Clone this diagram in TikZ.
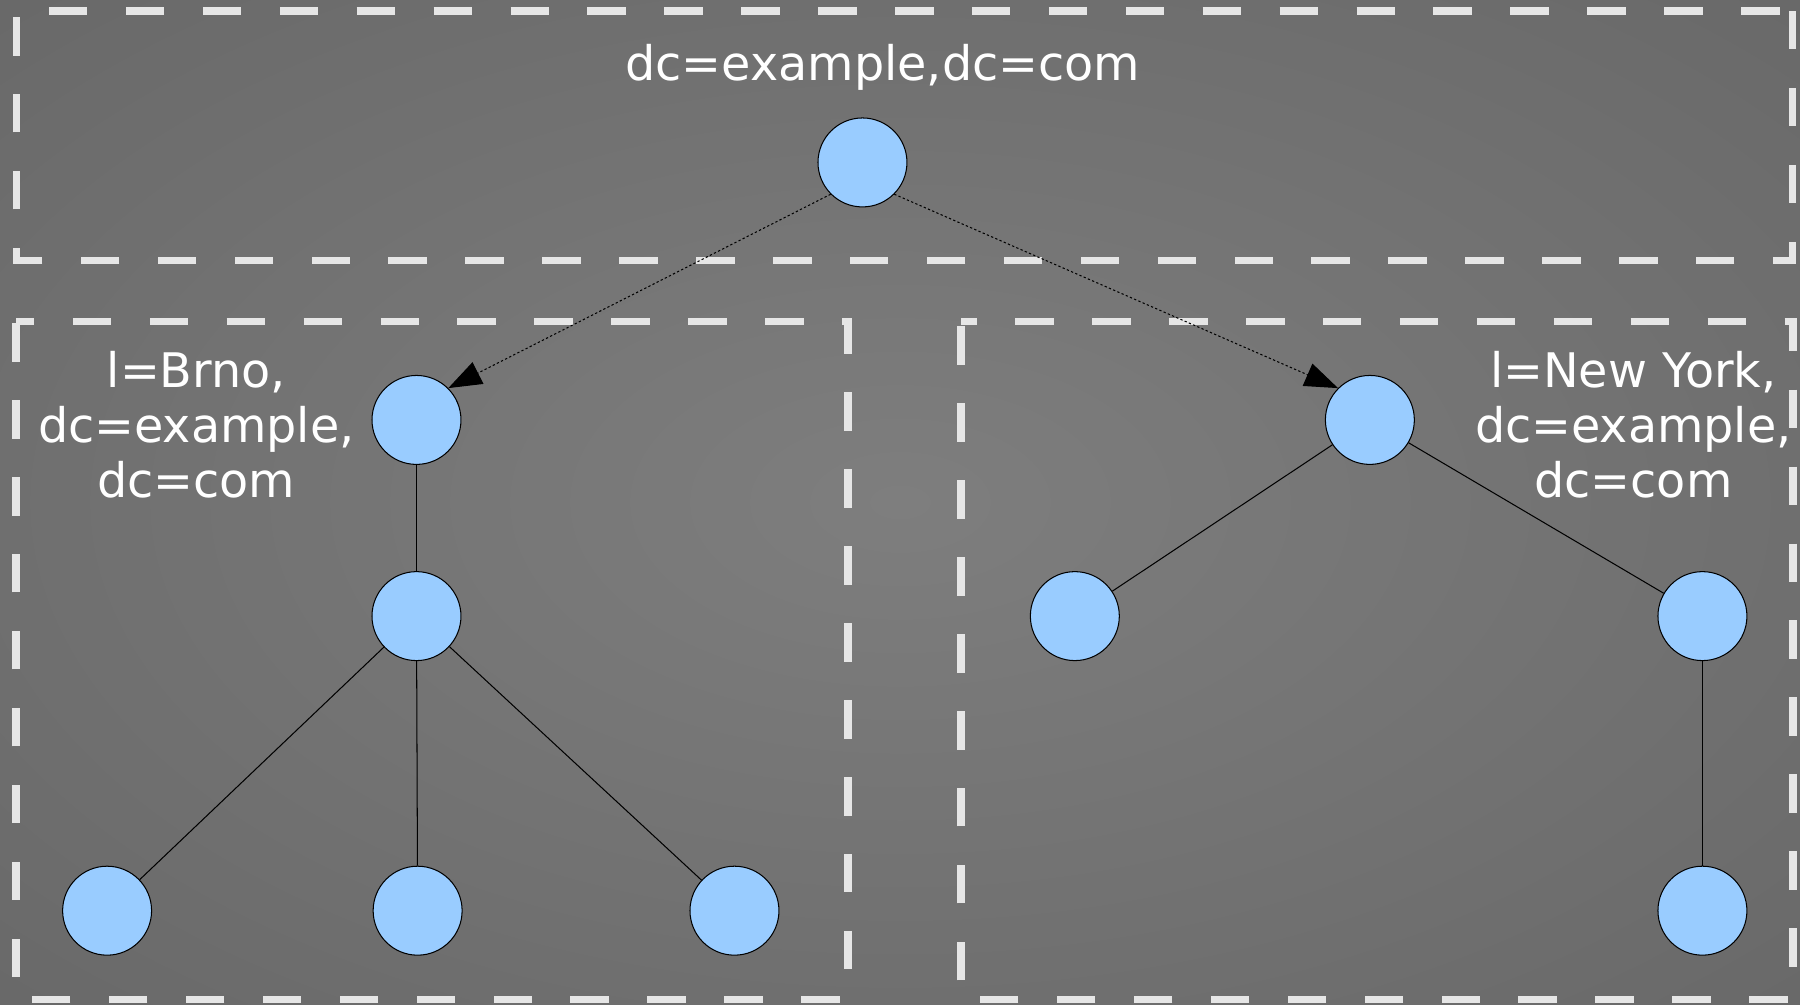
\documentclass[tikz,border=0pt]{standalone}
\usepackage{fontspec}
\setmainfont{DejaVu Sans}
\usetikzlibrary{arrows.meta}
\definecolor{nodeblue}{HTML}{99CCFF}
\definecolor{dashwhite}{HTML}{E6E6E6}
\definecolor{bgin}{HTML}{7E7E7E}
\definecolor{bgmid}{HTML}{696969}
\definecolor{bgout}{HTML}{525252}
\pgfdeclareradialshading{bgshade}{\pgfpoint{0bp}{0bp}}{color(0bp)=(bgin); color(35bp)=(bgmid); color(72bp)=(bgout)}
\tikzset{
  ldap/.style={circle, draw=black, line width=0.9pt, fill=nodeblue, minimum size=77.5pt, inner sep=0pt},
  lbl/.style={text=white, font=\fontsize{41.5}{48}\selectfont, align=center, inner sep=0pt},
  zonebox/.style={draw=dashwhite, line width=6.5pt, dash pattern=on 33.5pt off 33.5pt, line join=miter},
  edge/.style={draw=black, line width=0.9pt},
  ref/.style={draw=black, line width=0.9pt, dash pattern=on 2pt off 2pt, -{Triangle[length=29pt,width=21pt]}}
}
\begin{document}
\begin{tikzpicture}[x=1pt,y=-1pt]
\useasboundingbox (0,0) rectangle (1568,874.6);
\shade[shading=bgshade] (0,0) rectangle (1568,874.6);
% zone boxes
\draw[zonebox] (1561.5,9.6) -- (1561.5,227) -- (14.5,227) -- (14.5,9.6) -- cycle;
\draw[zonebox, dash phase=17.5pt] (14,280) -- (738.6,280) -- (738.6,870.7) -- (14,870.7) -- cycle;
\draw[zonebox, dash phase=19.5pt] (837,280) -- (1562,280) -- (1562,870.7) -- (837,870.7) -- cycle;
% nodes
\node[ldap] (root) at (751.3,141.5) {};
\node[ldap] (brno) at (362.8,365.8) {};
\node[ldap] (brnoc) at (362.8,536.7) {};
\node[ldap] (b1) at (93.3,793.3) {};
\node[ldap] (b2) at (363.8,793.3) {};
\node[ldap] (b3) at (639.8,793.3) {};
\node[ldap] (ny) at (1193.3,365.8) {};
\node[ldap] (nyl) at (936.3,536.7) {};
\node[ldap] (nyr) at (1483,536.7) {};
\node[ldap] (nyrc) at (1483,793.3) {};
% labels
\node[lbl, anchor=base] (rootlbl) at (769,69.7) {dc=example,dc=com};
\node[lbl, anchor=base] (brnolbl) at (171,433.4) {l=Brno,\\dc=example,\\dc=com};
\node[lbl, anchor=base] (nylbl) at (1422.8,433.4) {l=New York,\\dc=example,\\dc=com};
% connectors
\draw[ref] (root.225) -- (brno.45);
\draw[ref] (root.-45) -- (ny.135);
\draw[edge] (brno) -- (brnoc);
\draw[edge] (brnoc) -- (b1);
\draw[edge] (brnoc) -- (b2);
\draw[edge] (brnoc) -- (b3);
\draw[edge] (ny) -- (nyl);
\draw[edge] (ny) -- (nyr);
\draw[edge] (nyr) -- (nyrc);
\end{tikzpicture}
\end{document}
